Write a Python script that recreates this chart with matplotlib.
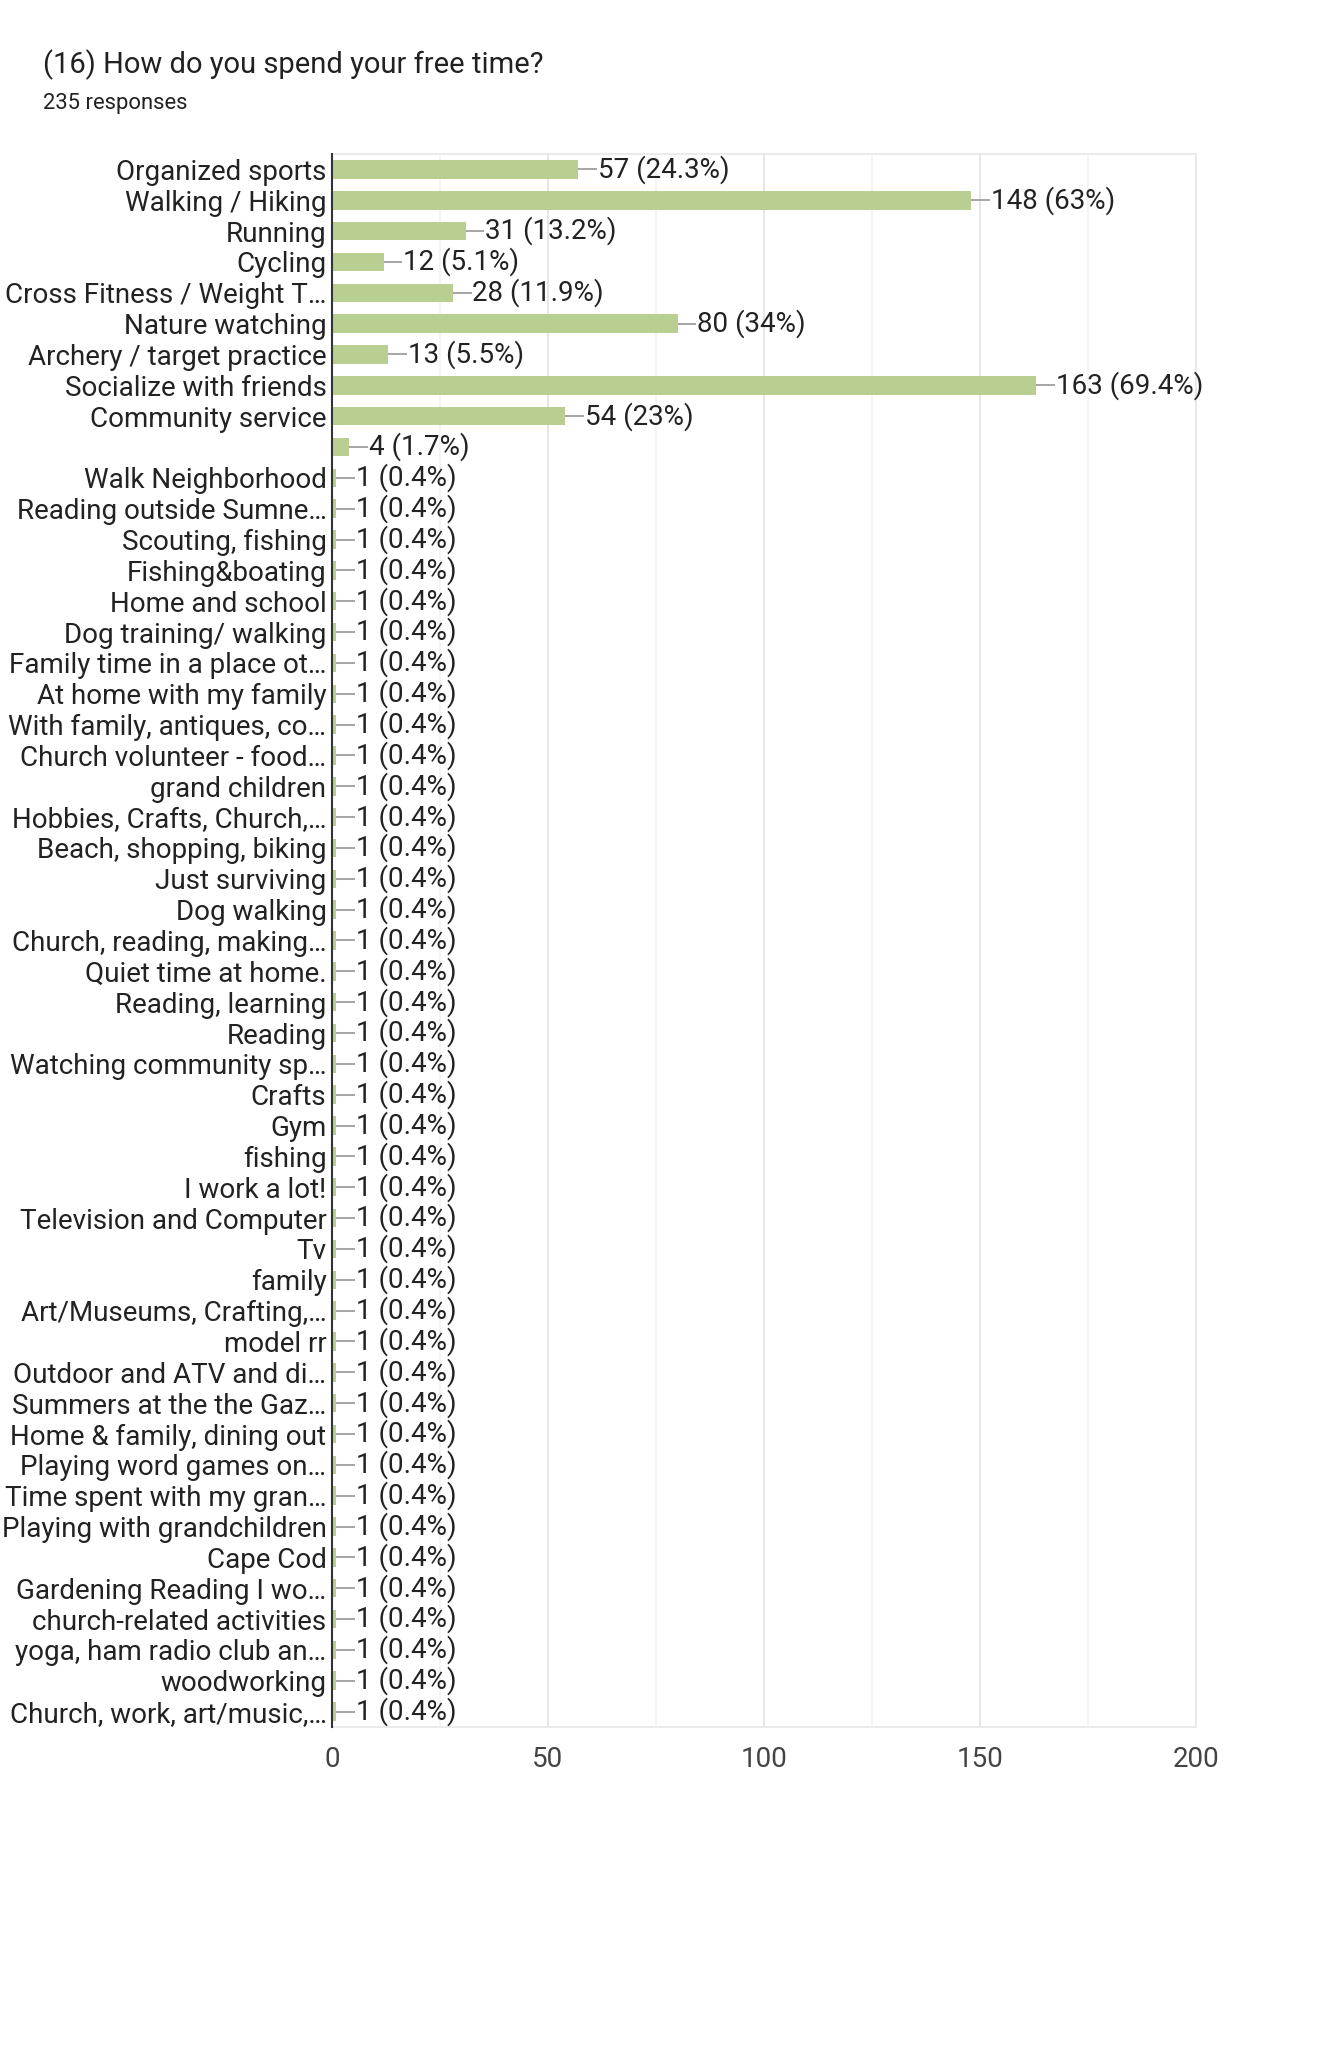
import numpy as np
import matplotlib
matplotlib.use("Agg")
import matplotlib.pyplot as plt
from matplotlib.ticker import MultipleLocator

plt.rcParams['font.family'] = ['Roboto', 'DejaVu Sans']

title = "(16) How do you spend your free time?"
subtitle = "235 responses"
total = 235

categories = [
    "Organized sports", "Walking / Hiking", "Running", "Cycling",
    "Cross Fitness / Weight T\u2026", "Nature watching", "Archery / target practice",
    "Socialize with friends", "Community service", "",
    "Walk Neighborhood", "Reading outside Sumne\u2026", "Scouting, fishing",
    "Fishing&boating", "Home and school", "Dog training/ walking",
    "Family time in a place ot\u2026", "At home with my family",
    "With family, antiques, co\u2026", "Church volunteer - food\u2026",
    "grand children", "Hobbies, Crafts, Church,\u2026", "Beach, shopping, biking",
    "Just surviving", "Dog walking", "Church, reading, making\u2026",
    "Quiet time at home.", "Reading, learning", "Reading",
    "Watching community sp\u2026", "Crafts", "Gym", "fishing", "I work a lot!",
    "Television and Computer", "Tv", "family", "Art/Museums, Crafting,\u2026",
    "model rr", "Outdoor and ATV and di\u2026", "Summers at the the Gaz\u2026",
    "Home & family, dining out", "Playing word games on\u2026",
    "Time spent with my gran\u2026", "Playing with grandchildren", "Cape Cod",
    "Gardening Reading I wo\u2026", "church-related activities",
    "yoga, ham radio club an\u2026", "woodworking", "Church, work, art/music,\u2026",
]
counts = [57, 148, 31, 12, 28, 80, 13, 163, 54, 4] + [1] * 41

xticks = [0, 50, 100, 150, 200]

W, H = 1331, 2048
fig = plt.figure(figsize=(W / 100, H / 100), dpi=100)
ax = fig.add_axes([332 / W, 1 - 1727 / H, (1196 - 332) / W, (1727 - 154) / H])

y = np.arange(len(categories))
ax.barh(y, counts, height=0.6, color="#b9cf91", zorder=3)

def fmt_pct(c):
    p = round(c / total * 100, 1)
    s = f"{p:.1f}"
    if s.endswith(".0"):
        s = s[:-2]
    return f"{c} ({s}%)"

for yi, c in zip(y, counts):
    ax.plot([c, c + 4.3], [yi, yi], color="#9e9e9e", lw=1.3, zorder=4,
            solid_capstyle="butt")
    ax.text(c + 4.5, yi, fmt_pct(c), va="center", ha="left", fontsize=20,
            color="#222222", zorder=5)

ax.set_xlim(0, 200)
ax.set_ylim(len(categories) - 0.5, -0.5)
ax.set_yticks(y)
ax.set_yticklabels(categories, fontsize=20, color="#222222")
ax.set_xticks(xticks)
ax.set_xticklabels([str(t) for t in xticks], fontsize=20, color="#444444")
ax.xaxis.set_minor_locator(MultipleLocator(25))
ax.tick_params(axis="y", length=0, pad=4)
ax.tick_params(axis="x", which="both", length=0, pad=14)

ax.grid(axis="x", which="major", color="#e3e3e3", lw=1.2, zorder=0)
ax.grid(axis="x", which="minor", color="#f2f2f2", lw=1.2, zorder=0)
ax.set_axisbelow(True)
for side in ["top", "right", "bottom"]:
    ax.spines[side].set_color("#e8e8e8")
    ax.spines[side].set_linewidth(1.2)
ax.spines["left"].set_color("#333333")
ax.spines["left"].set_linewidth(1.5)
ax.spines["left"].set_zorder(6)

fig.text(43 / W, 1 - 65 / H, title, fontsize=21, color="#212121",
         va="center", ha="left")
fig.text(43 / W, 1 - 104 / H, subtitle, fontsize=15.8, color="#212121",
         va="center", ha="left")

fig.savefig("out.png", dpi=100, facecolor="white")
